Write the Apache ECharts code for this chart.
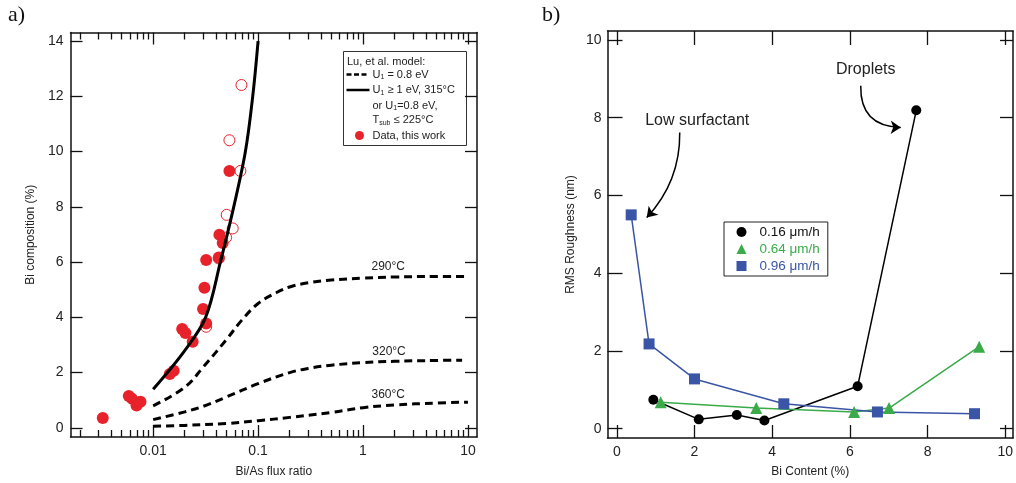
<!DOCTYPE html>
<html>
<head>
<meta charset="utf-8">
<script src="https://cdn.jsdelivr.net/npm/echarts@6/dist/echarts.min.js"></script>
<style>
html,body{margin:0;padding:0;background:#fff;}
#chart{width:1016px;height:483px;}
</style>
</head>
<body>
<div id="chart"></div>
<script>
// ---------- Panel a) data ----------
const fluxMajorTicks = [0.01, 0.1, 1, 10];
const fluxMinorTicks = [0.002,0.003,0.004,0.005,0.006,0.007,0.008,0.009,
  0.02,0.03,0.04,0.05,0.06,0.07,0.08,0.09,
  0.2,0.3,0.4,0.5,0.6,0.7,0.8,0.9,
  2,3,4,5,6,7,8,9];
const compTicks = [0, 2, 4, 6, 8, 10, 12, 14];

const solidX = [0.01, 0.02, 0.0316, 0.0437, 0.0586, 0.0757, 0.0889, 0.1];
const solidY = [1.4, 2.8, 4.0, 6.0, 8.0, 10.0, 12.0, 14.0];

const d290X = [0.01, 0.02, 0.03, 0.05, 0.07, 0.1, 0.15, 0.2, 0.3, 0.5, 1, 2, 5, 10];
const d290Y = [0.8, 1.47, 2.2, 3.2, 3.9, 4.5, 4.9, 5.1, 5.25, 5.35, 5.42, 5.46, 5.48, 5.48];
const d320X = [0.01, 0.02, 0.03, 0.05, 0.1, 0.2, 0.3, 0.5, 1, 2, 5, 8.8];
const d320Y = [0.3, 0.58, 0.78, 1.12, 1.6, 2.0, 2.15, 2.27, 2.36, 2.41, 2.44, 2.45];
const d360X = [0.01, 0.02, 0.05, 0.1, 0.2, 0.5, 1, 2, 5, 10];
const d360Y = [0.06, 0.09, 0.16, 0.26, 0.38, 0.56, 0.73, 0.83, 0.9, 0.93];

const filledX = [0.00331, 0.00586, 0.0063, 0.00694, 0.00757, 0.0144, 0.0157, 0.0189, 0.0203, 0.0238,
  0.0299, 0.0308, 0.032, 0.032, 0.0422, 0.0428, 0.046, 0.0533];
const filledY = [0.36, 1.15, 1.05, 0.81, 0.95, 1.95, 2.07, 3.58, 3.43, 3.12,
  4.3, 5.07, 6.08, 3.78, 6.17, 6.99, 6.69, 9.3];
const openX = [0.0694, 0.0533, 0.0678, 0.0502, 0.0573, 0.0496, 0.0422, 0.032];
const openY = [12.41, 10.41, 9.3, 7.71, 7.22, 6.89, 6.13, 3.66];

// ---------- Panel b) data ----------
const contentTicks = [0, 2, 4, 6, 8, 10];
const roughTicks = [0, 2, 4, 6, 8, 10];
const blackX = [0.94, 2.11, 3.09, 3.8, 6.2, 7.71];
const blackY = [0.745, 0.24, 0.35, 0.21, 1.09, 8.19];
const greenX = [1.13, 3.59, 6.11, 7.01, 9.33];
const greenY = [0.68, 0.53, 0.43, 0.53, 2.11];
const blueX = [0.37, 0.83, 2.0, 4.3, 6.71, 9.21];
const blueY = [5.5, 2.18, 1.28, 0.64, 0.43, 0.385];
const rateNames = ['0.16 μm/h', '0.64 μm/h', '0.96 μm/h'];

// annotation arrows (data coordinates of start / end in panel b)
const dropletArrow = [[6.28, 8.82], [7.31, 7.75]];
const surfactantArrow = [[1.62, 7.62], [0.77, 5.43]];

const zip = (xs, ys) => xs.map((x, i) => [x, ys[i]]);

const FONT = 'Liberation Sans, Arial, sans-serif';
const RED = '#e8222a';
const GREEN = '#3aab48';
const BLUE = '#3a55a6';
const TXT = '#222';

const chart = echarts.init(document.getElementById('chart'), null, {renderer: 'canvas'});

const gridA = {left: 70.5, top: 32.5, width: 406.5, height: 405.5};
const gridB = {left: 607.5, top: 31, width: 407, height: 408};

function logAxis(pos, ticks, len, showLine, showLabel) {
  return {
    type: 'log', gridIndex: 0, position: pos, logBase: 10,
    min: 0.00163, max: 12.2,
    axisLine: {show: showLine, onZero: false, lineStyle: {color: '#111', width: 1.5}},
    axisTick: {show: true, inside: true, length: len, customValues: ticks, lineStyle: {color: '#111', width: 1.3}},
    axisLabel: showLabel ? {show: true, customValues: ticks, margin: 7, fontSize: 14, fontFamily: FONT, color: TXT,
      formatter: v => String(+v.toPrecision(3))} : {show: false},
    splitLine: {show: false}, minorTick: {show: false}
  };
}

const annLabel = {show: true, position: 'inside', formatter: '{b}', fontSize: 16, fontFamily: FONT, color: TXT};
const tempLabel = {show: true, position: 'inside', formatter: '{b}', fontSize: 12, fontFamily: FONT, color: TXT};

const option = {
  animation: false,
  backgroundColor: '#fff',
  grid: [
    Object.assign({containLabel: false}, gridA),
    Object.assign({containLabel: false}, gridB)
  ],
  xAxis: [
    Object.assign(logAxis('bottom', fluxMajorTicks, 12, true, true), {
      name: 'Bi/As flux ratio', nameLocation: 'middle', nameGap: 29,
      nameTextStyle: {fontSize: 12, fontFamily: FONT, color: TXT}
    }),
    logAxis('bottom', fluxMinorTicks, 7, false, false),
    logAxis('top', fluxMajorTicks, 12, true, false),
    logAxis('top', fluxMinorTicks, 7, false, false),
    {
      type: 'value', gridIndex: 1, position: 'bottom', min: -0.24, max: 10.2,
      name: 'Bi Content (%)', nameLocation: 'middle', nameGap: 28,
      nameTextStyle: {fontSize: 12, fontFamily: FONT, color: TXT},
      axisLine: {show: true, onZero: false, lineStyle: {color: '#111', width: 1.5}},
      axisTick: {show: true, inside: true, length: 13, customValues: contentTicks, lineStyle: {color: '#111', width: 1.3}},
      axisLabel: {show: true, customValues: contentTicks, margin: 7, fontSize: 14, fontFamily: FONT, color: TXT},
      splitLine: {show: false}
    },
    {
      type: 'value', gridIndex: 1, position: 'top', min: -0.24, max: 10.2,
      axisLine: {show: true, onZero: false, lineStyle: {color: '#111', width: 1.5}},
      axisTick: {show: true, inside: true, length: 14, customValues: contentTicks, lineStyle: {color: '#111', width: 1.3}},
      axisLabel: {show: false},
      splitLine: {show: false}
    }
  ],
  yAxis: [
    {
      type: 'value', gridIndex: 0, position: 'left', min: -0.33, max: 14.31,
      name: 'Bi composition (%)', nameLocation: 'middle', nameGap: 34,
      nameTextStyle: {fontSize: 12, fontFamily: FONT, color: TXT},
      axisLine: {show: true, onZero: false, lineStyle: {color: '#111', width: 1.5}},
      axisTick: {show: true, inside: true, length: 12, customValues: compTicks, lineStyle: {color: '#111', width: 1.3}},
      axisLabel: {show: true, customValues: compTicks, margin: 7, fontSize: 14, fontFamily: FONT, color: TXT},
      splitLine: {show: false}
    },
    {
      type: 'value', gridIndex: 0, position: 'right', min: -0.33, max: 14.31,
      axisLine: {show: true, onZero: false, lineStyle: {color: '#111', width: 1.5}},
      axisTick: {show: true, inside: true, length: 12, customValues: compTicks, lineStyle: {color: '#111', width: 1.3}},
      axisLabel: {show: false},
      splitLine: {show: false}
    },
    {
      type: 'value', gridIndex: 1, position: 'left', min: -0.24, max: 10.23,
      name: 'RMS Roughness (nm)', nameLocation: 'middle', nameGap: 31,
      nameTextStyle: {fontSize: 12, fontFamily: FONT, color: TXT},
      axisLine: {show: true, onZero: false, lineStyle: {color: '#111', width: 1.5}},
      axisTick: {show: true, inside: true, length: 15, customValues: roughTicks, lineStyle: {color: '#111', width: 1.3}},
      axisLabel: {show: true, customValues: roughTicks, margin: 6, fontSize: 14, fontFamily: FONT, color: TXT},
      splitLine: {show: false}
    },
    {
      type: 'value', gridIndex: 1, position: 'right', min: -0.24, max: 10.23,
      axisLine: {show: true, onZero: false, lineStyle: {color: '#111', width: 1.5}},
      axisTick: {show: true, inside: true, length: 13, customValues: roughTicks, lineStyle: {color: '#111', width: 1.3}},
      axisLabel: {show: false},
      splitLine: {show: false}
    }
  ],
  legend: {
    data: [
      {name: rateNames[0], icon: 'circle', textStyle: {color: '#111'}},
      {name: rateNames[1], icon: 'triangle', textStyle: {color: GREEN}},
      {name: rateNames[2], icon: 'rect', textStyle: {color: BLUE}}
    ],
    orient: 'vertical', left: 724, top: 222,
    itemWidth: 10, itemHeight: 10, itemGap: 3,
    padding: [3, 8, 3, 12.5],
    borderColor: '#222', borderWidth: 1, borderRadius: 0,
    backgroundColor: '#fff',
    selectedMode: false,
    textStyle: {fontSize: 13.5, fontFamily: FONT, lineHeight: 13, padding: [0, 0, 0, 8]}
  },
  series: [
    // ---- panel a ----
    {
      name: 'U1 = 0.8 eV (290°C)', type: 'line', xAxisIndex: 0, yAxisIndex: 0,
      data: zip(d290X, d290Y), showSymbol: false, smooth: 0.4,
      lineStyle: {color: '#000', width: 3, type: [8, 5]},
      markPoint: {symbol: 'circle', symbolSize: 0, silent: true, label: tempLabel,
        data: [{name: '290°C', coord: [1.74, 5.82]}]}
    },
    {
      name: 'U1 = 0.8 eV (320°C)', type: 'line', xAxisIndex: 0, yAxisIndex: 0,
      data: zip(d320X, d320Y), showSymbol: false, smooth: 0.4,
      lineStyle: {color: '#000', width: 3, type: [8, 5]},
      markPoint: {symbol: 'circle', symbolSize: 0, silent: true, label: tempLabel,
        data: [{name: '320°C', coord: [1.77, 2.75]}]}
    },
    {
      name: 'U1 = 0.8 eV (360°C)', type: 'line', xAxisIndex: 0, yAxisIndex: 0,
      data: zip(d360X, d360Y), showSymbol: false, smooth: 0.4,
      lineStyle: {color: '#000', width: 3, type: [8, 5]},
      markPoint: {symbol: 'circle', symbolSize: 0, silent: true, label: tempLabel,
        data: [{name: '360°C', coord: [1.74, 1.19]}]}
    },
    {
      name: 'U1 ≥ 1 eV, 315°C', type: 'line', xAxisIndex: 0, yAxisIndex: 0,
      data: zip(solidX, solidY), showSymbol: false, smooth: 0.35,
      lineStyle: {color: '#000', width: 3}
    },
    {
      name: 'Data (open)', type: 'scatter', xAxisIndex: 0, yAxisIndex: 0,
      data: zip(openX, openY), symbol: 'circle', symbolSize: 11,
      itemStyle: {color: 'rgba(255,255,255,0)', borderColor: RED, borderWidth: 1, opacity: 1}
    },
    {
      name: 'Data, this work', type: 'scatter', xAxisIndex: 0, yAxisIndex: 0,
      data: zip(filledX, filledY), symbol: 'circle', symbolSize: 12,
      itemStyle: {color: RED, opacity: 1}
    },
    // ---- panel b ----
    {
      name: rateNames[0], type: 'line', xAxisIndex: 4, yAxisIndex: 2,
      data: zip(blackX, blackY), symbol: 'circle', symbolSize: 10,
      lineStyle: {color: '#000', width: 1.5}, itemStyle: {color: '#000'},
      markPoint: {symbol: 'circle', symbolSize: 0, silent: true, label: annLabel,
        data: [{name: 'Droplets', coord: [6.41, 9.25]}]}
    },
    {
      name: rateNames[1], type: 'line', xAxisIndex: 4, yAxisIndex: 2,
      data: zip(greenX, greenY), symbol: 'triangle', symbolSize: 12,
      lineStyle: {color: GREEN, width: 1.5}, itemStyle: {color: GREEN}
    },
    {
      name: rateNames[2], type: 'line', xAxisIndex: 4, yAxisIndex: 2,
      data: zip(blueX, blueY), symbol: 'rect', symbolSize: 11,
      lineStyle: {color: BLUE, width: 1.5}, itemStyle: {color: BLUE},
      markPoint: {symbol: 'circle', symbolSize: 0, silent: true, label: annLabel,
        data: [{name: 'Low surfactant', coord: [2.07, 7.92]}]}
    },
    {
      name: 'Droplets arrow', type: 'lines', coordinateSystem: 'cartesian2d',
      xAxisIndex: 4, yAxisIndex: 2, silent: true,
      symbol: ['none', 'arrow'], symbolSize: 10,
      lineStyle: {color: '#000', width: 1.5, opacity: 1, curveness: -0.5},
      data: [{coords: dropletArrow}]
    },
    {
      name: 'Surfactant arrow', type: 'lines', coordinateSystem: 'cartesian2d',
      xAxisIndex: 4, yAxisIndex: 2, silent: true,
      symbol: ['none', 'arrow'], symbolSize: 10,
      lineStyle: {color: '#000', width: 1.5, opacity: 1, curveness: 0.2},
      data: [{coords: surfactantArrow}]
    }
  ],
  graphic: [
    {type: 'text', left: 8, top: 4, style: {text: 'a)', fontSize: 22, fontFamily: 'Liberation Serif, DejaVu Serif, serif', fill: '#111'}},
    {type: 'text', left: 542, top: 4, style: {text: 'b)', fontSize: 22, fontFamily: 'Liberation Serif, DejaVu Serif, serif', fill: '#111'}},
    {
      type: 'group', left: 343, top: 51, children: [
        {type: 'rect', shape: {x: 0, y: 0, width: 123, height: 94}, style: {fill: '#fff', stroke: '#333', lineWidth: 1}},
        {type: 'text', x: 3.5, y: 10, style: {text: 'Lu, et al. model:', fontSize: 11, fontFamily: FONT, fill: TXT, verticalAlign: 'middle'}},
        {type: 'line', shape: {x1: 3, y1: 23, x2: 25, y2: 23}, style: {stroke: '#000', lineWidth: 2.5, lineDash: [5, 2.5]}},
        {type: 'text', x: 29, y: 23, style: {text: 'U{s|1} = 0.8 eV', fontSize: 11, fontFamily: FONT, fill: TXT, verticalAlign: 'middle',
          rich: {s: {fontSize: 7, fontFamily: FONT, fill: TXT, padding: [6, 0, 0, 0]}}}},
        {type: 'line', shape: {x1: 3, y1: 38.5, x2: 26, y2: 38.5}, style: {stroke: '#000', lineWidth: 2.5}},
        {type: 'text', x: 29, y: 38.5, style: {text: 'U{s|1} ≥ 1 eV, 315°C', fontSize: 11, fontFamily: FONT, fill: TXT, verticalAlign: 'middle',
          rich: {s: {fontSize: 7, fontFamily: FONT, fill: TXT, padding: [6, 0, 0, 0]}}}},
        {type: 'text', x: 29, y: 54, style: {text: 'or U{s|1}=0.8 eV,', fontSize: 11, fontFamily: FONT, fill: TXT, verticalAlign: 'middle',
          rich: {s: {fontSize: 7, fontFamily: FONT, fill: TXT, padding: [6, 0, 0, 0]}}}},
        {type: 'text', x: 29, y: 68.5, style: {text: 'T{s|sub} ≤ 225°C', fontSize: 11, fontFamily: FONT, fill: TXT, verticalAlign: 'middle',
          rich: {s: {fontSize: 7, fontFamily: FONT, fill: TXT, padding: [6, 0, 0, 0]}}}},
        {type: 'circle', shape: {cx: 16, cy: 84, r: 4.5}, style: {fill: RED}},
        {type: 'text', x: 29, y: 84, style: {text: 'Data, this work', fontSize: 11, fontFamily: FONT, fill: TXT, verticalAlign: 'middle'}}
      ]
    }
  ]
};

chart.setOption(option);
</script>
</body>
</html>
